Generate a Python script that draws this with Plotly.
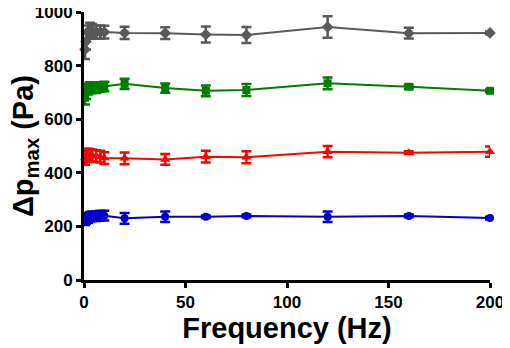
import plotly.graph_objects as go

freq = [0.5, 1, 2, 3, 4, 6, 8, 10, 20, 40, 60, 80, 120, 160, 200]

gray_y = [860, 890, 925, 935, 930, 925, 925, 925, 922, 921, 916, 914, 944, 921, 922]
gray_e = [35, 30, 25, 25, 25, 25, 25, 24, 23, 22, 30, 30, 40, 20, 5]

green_y = [680, 700, 712, 718, 716, 716, 720, 722, 732, 716, 706, 709, 734, 721, 706]
green_e = [25, 25, 20, 20, 18, 18, 18, 18, 19, 17, 20, 22, 22, 8, 5]

red_y = [455, 465, 468, 466, 465, 462, 460, 455, 454, 450, 460, 458, 479, 475, 479]
red_e = [25, 25, 22, 22, 22, 22, 22, 22, 22, 20, 22, 22, 21, 5, 19]

blue_y = [220, 228, 232, 236, 238, 238, 240, 240, 230, 236, 236, 239, 236, 239, 231]
blue_e = [15, 18, 18, 18, 18, 18, 18, 18, 20, 20, 5, 5, 20, 5, 5]

series = [
    ("gray", gray_y, gray_e, "#595959", "diamond", 9),
    ("green", green_y, green_e, "#007d00", "square", 8),
    ("red", red_y, red_e, "#ff0000", "triangle-up", 9),
    ("blue", blue_y, blue_e, "#0000c8", "circle", 8),
]

fig = go.Figure()
for name, ys, es, col, sym, sz in series:
    fig.add_trace(go.Scatter(
        x=freq, y=ys, mode="lines+markers", name=name,
        line=dict(color=col, width=2),
        marker=dict(color=col, symbol=sym, size=sz),
        error_y=dict(type="data", array=es, visible=True, color=col,
                     thickness=2.5, width=5),
        showlegend=False, cliponaxis=False,
    ))

font_family = "Liberation Sans, Arial, sans-serif"
fig.update_layout(
    width=502, height=340,
    margin=dict(l=76, r=20, t=4, b=68),
    plot_bgcolor="white", paper_bgcolor="white",
    font=dict(family=font_family, color="black"),
    xaxis=dict(
        range=[0, 200], tickvals=[0, 50, 100, 150, 200],
        ticktext=["<b>0</b>", "<b>50</b>", "<b>100</b>", "<b>150</b>", "<b>200</b>"],
        showgrid=False, zeroline=False, automargin=False, ticklabeloverflow="allow",
        showline=True, linecolor="black", linewidth=3,
        ticks="outside", ticklen=5, tickwidth=2.5, tickcolor="black",
        tickfont=dict(size=17, family=font_family),
        title=dict(text="<b>Frequency (Hz)</b>", font=dict(size=29, family=font_family), standoff=4),
    ),
    yaxis=dict(
        range=[0, 1000], tickvals=[0, 200, 400, 600, 800, 1000],
        ticktext=["<b>0</b>", "<b>200</b>", "<b>400</b>", "<b>600</b>", "<b>800</b>", "<b>1000</b>"],
        showgrid=False, zeroline=False, automargin=False, ticklabeloverflow="allow",
        showline=True, linecolor="black", linewidth=3,
        ticks="outside", ticklen=5, tickwidth=2.5, tickcolor="black",
        tickfont=dict(size=17, family=font_family),
    ),
    annotations=[dict(
        text="<b>Δp<sub>max</sub> (Pa)</b>", textangle=-90,
        xref="paper", yref="paper", x=0, y=0.5,
        xanchor="center", yanchor="middle", xshift=-59, yshift=0,
        showarrow=False, font=dict(size=29, family=font_family, color="black"),
    )],
)

fig.write_html("out.html")
